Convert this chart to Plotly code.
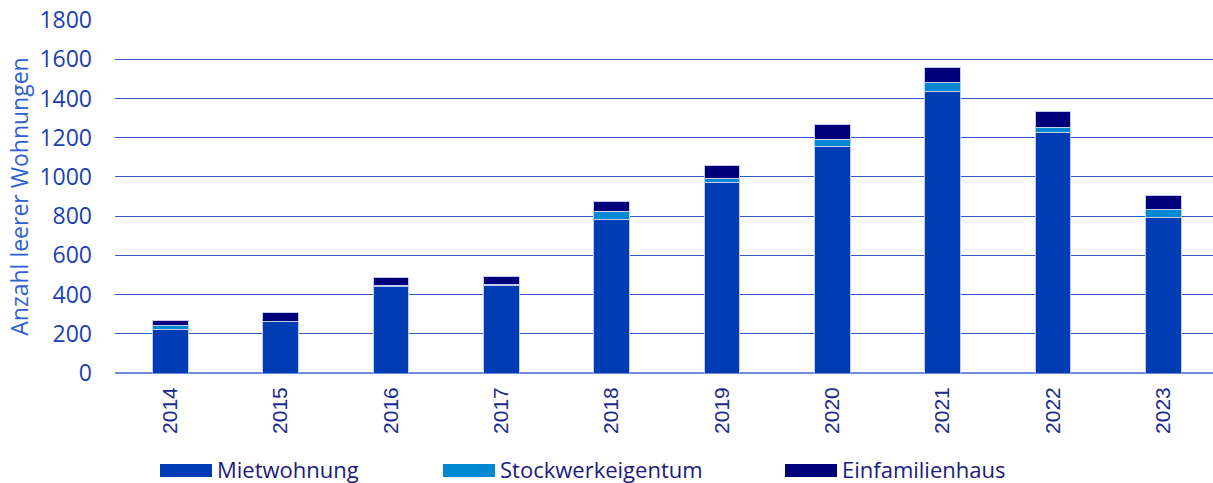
import plotly.graph_objects as go

years = ["2014", "2015", "2016", "2017", "2018", "2019", "2020", "2021", "2022", "2023"]
mietwohnung = [223, 262, 442, 446, 782, 970, 1155, 1433, 1225, 793]
stockwerkeigentum = [20, 2, 3, 3, 40, 22, 38, 50, 27, 41]
einfamilienhaus = [24, 46, 42, 43, 51, 67, 76, 73, 82, 70]
y_ticks = [0, 200, 400, 600, 800, 1000, 1200, 1400, 1600, 1800]

series = [
    ("Mietwohnung", mietwohnung, "#003DB4"),
    ("Stockwerkeigentum", stockwerkeigentum, "#0088D2"),
    ("Einfamilienhaus", einfamilienhaus, "#00007A"),
]

W, H = 1213, 483
ML, MR, MT, MB = 115, 0, 20, 110
PW = W - ML - MR
PH = H - MT - MB

fig = go.Figure()
for name, vals, col in series:
    fig.add_trace(go.Bar(
        x=years, y=vals, name=name,
        marker=dict(color=col, line=dict(color="#c3cbee", width=1)),
        showlegend=False,
    ))

fig.update_layout(
    width=W, height=H,
    margin=dict(l=ML, r=MR, t=MT, b=MB),
    barmode="stack", bargap=0.677,
    plot_bgcolor="white", paper_bgcolor="white",
    font=dict(family="Open Sans", color="#1a3fb5"),
)
fig.update_xaxes(
    type="category", range=[-0.5, 9.45],
    tickangle=-90, showgrid=False, showline=False, ticks="",
    tickfont=dict(family="Liberation Sans, Arial", size=21, color="#1a2a8c"),
    ticklabelstandoff=9,
)
fig.update_yaxes(
    range=[0, 1800], tickvals=y_ticks,
    showgrid=True, gridcolor="#3558c8", gridwidth=1,
    zeroline=True, zerolinecolor="#6f8ad6", zerolinewidth=1.5,
    showline=False, ticks="",
    tickfont=dict(family="Open Sans", size=23, color="#1a3fb5"),
    ticklabelstandoff=22,
    title=dict(text="Anzahl leerer Wohnungen", standoff=4,
               font=dict(family="Open Sans", size=23, color="#2f5fd0")),
)

# Manual legend with wide swatches
def px_to_paper_x(px):
    return (px - ML) / PW

def px_to_paper_y(py):
    return (H - MB - py) / PH

legend_x = [160, 443, 785]
for (name, vals, col), lx in zip(series, legend_x):
    fig.add_shape(type="rect", xref="paper", yref="paper",
                  x0=px_to_paper_x(lx), x1=px_to_paper_x(lx + 52),
                  y0=px_to_paper_y(477), y1=px_to_paper_y(464),
                  fillcolor=col, line=dict(width=0))
    fig.add_annotation(xref="paper", yref="paper",
                       x=px_to_paper_x(lx + 55), y=px_to_paper_y(469),
                       xanchor="left", yanchor="middle", showarrow=False,
                       text=name,
                       font=dict(family="Open Sans", size=22, color="#1a1a80"))

fig.write_html(
    "out.html",
    config={"displayModeBar": False},
    post_script="document.body.style.margin='0';document.body.style.overflow='hidden';",
)
